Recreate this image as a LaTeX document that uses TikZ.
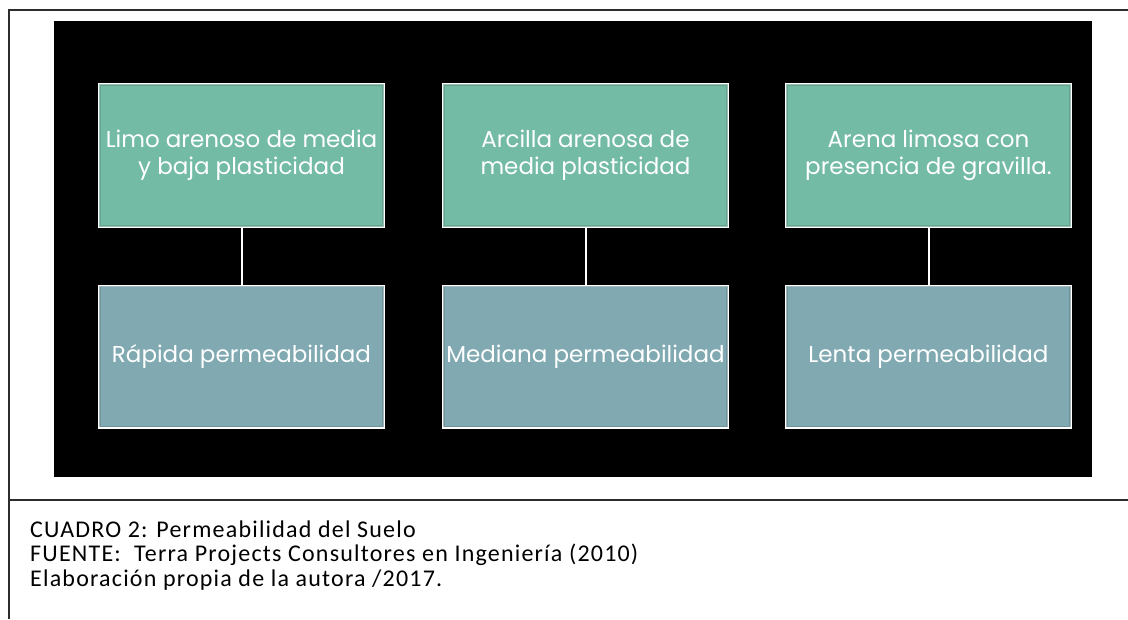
\documentclass[tikz,border=0pt]{standalone}
\usepackage{fontspec}
\setmainfont{Carlito}[LetterSpace=5]
\newfontfamily\boxfont{Poppins}
\definecolor{topfill}{RGB}{115,187,165}
\definecolor{botfill}{RGB}{128,169,178}
\definecolor{framegray}{RGB}{45,45,45}
\begin{document}
\begin{tikzpicture}[x=1pt,y=-1pt,
  box/.style={draw=white, line width=2pt, minimum width=285pt, minimum height=143pt,
    inner sep=0pt, align=center, text=white,
    font=\boxfont\fontsize{23}{27}\selectfont},
  topbox/.style={box, fill=topfill},
  botbox/.style={box, fill=botfill, minimum height=142pt},
  conn/.style={draw=white, line width=2pt},
  frame/.style={draw=framegray, line width=2pt},
  caption/.style={anchor=base west, inner sep=0pt, font=\fontsize{24}{25}\selectfont, text=black}]
\useasboundingbox (0,0) rectangle (1128,619);
\fill[white] (0,0) rectangle (1128,619);
% frame lines
\coordinate (tl) at (9,10);
\coordinate (tr) at (1128,10);
\coordinate (bl) at (9,619);
\coordinate (ml) at (9,500);
\coordinate (mr) at (1128,500);
\draw[frame] (tr) -- (tl) -- (bl);
\draw[frame] (ml) -- (mr);
% black background
\fill[black] (54,21) rectangle (1092,477);
% boxes
\node[topbox] (t1) at (241.5,155.5) {Limo arenoso de media\\y baja plasticidad};
\node[topbox] (t2) at (585.5,155.5) {Arcilla arenosa de\\media plasticidad};
\node[topbox] (t3) at (928.5,155.5) {Arena limosa con\\presencia de gravilla.};
\node[botbox] (b1) at (241.5,356.5) {Rápida permeabilidad};
\node[botbox] (b2) at (585.5,356.5) {Mediana permeabilidad};
\node[botbox] (b3) at (928.5,356.5) {Lenta permeabilidad};
\foreach \n/\c in {t1/topfill,t2/topfill,t3/topfill,b1/botfill,b2/botfill,b3/botfill}{
  \draw[\c!80!black, line width=1.2pt, opacity=0.6]
    ([shift={(2,2)}]\n.north west) rectangle ([shift={(-2,-2)}]\n.south east);
}
\draw[conn] (t1.south) -- (b1.north);
\draw[conn] (t2.south) -- (b2.north);
\draw[conn] (t3.south) -- (b3.north);
% caption
\node[caption] (c1) at (30,537) {CUADRO 2: Permeabilidad del Suelo};
\node[caption] (c2) at (30,561) {FUENTE:\ \ Terra Projects Consultores en Ingeniería (2010)};
\node[caption] (c3) at (30,586) {Elaboración propia de la autora /2017.};
\end{tikzpicture}
\end{document}
